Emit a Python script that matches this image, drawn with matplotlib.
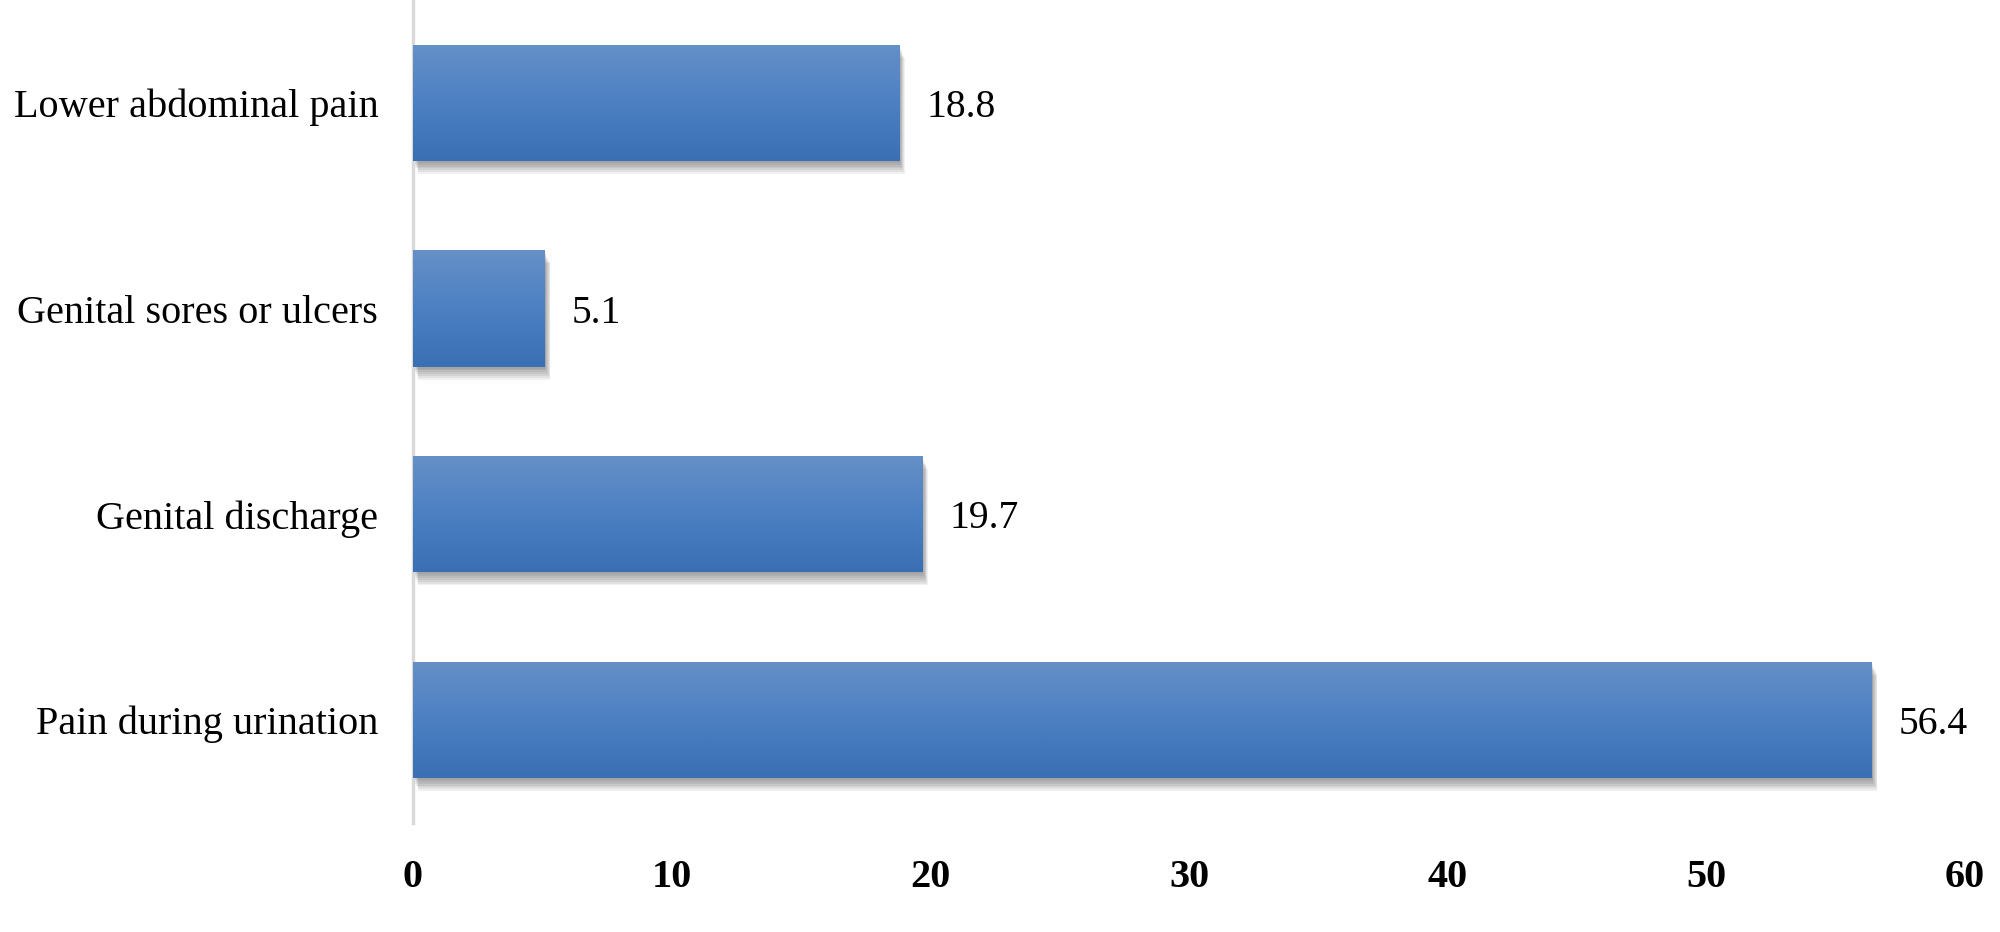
import numpy as np
import matplotlib.pyplot as plt
from matplotlib.patches import Rectangle
from matplotlib.colors import LinearSegmentedColormap

categorias = ["Pain during urination", "Genital discharge",
              "Genital sores or ulcers", "Lower abdominal pain"]
valores = [56.4, 19.7, 5.1, 18.8]
ticks_x = [0, 10, 20, 30, 40, 50, 60]

plt.rcParams['font.family'] = ['Liberation Serif', 'DejaVu Serif']

fig = plt.figure(figsize=(20, 9.32), dpi=100)
ax = fig.add_axes([0.2065, 0.117, 0.776, 0.883])

y = np.arange(len(categorias))
alto = 0.565
barras = ax.barh(y, valores, height=alto, color='none', edgecolor='none', zorder=3)

# degradado vertical (claro arriba, oscuro abajo)
grad = np.linspace(0, 1, 256).reshape(-1, 1)
cmap = LinearSegmentedColormap.from_list('azul', ['#3a6fb4', '#4c80c3', '#6690c7'])

for b in barras:
    x0, y0 = b.get_x(), b.get_y()
    w, h = b.get_width(), b.get_height()
    # sombra
    for k in range(1, 8):
        sh = Rectangle((x0 + 0.03 * k, y0 - 0.009 * k), w, h,
                       facecolor='#000000', alpha=0.06, edgecolor='none', zorder=2)
        ax.add_patch(sh)
    im = ax.imshow(grad, extent=(x0, x0 + w, y0, y0 + h), origin='lower',
                   cmap=cmap, aspect='auto', zorder=3)
    im.set_clip_path(b)

for yi, v in zip(y, valores):
    ax.text(v + 1.05, yi, f"{v}", va='center_baseline', ha='left', fontsize=28.5, color='black')

ax.set_xlim(0, 60)
ax.set_ylim(-0.5, 3.5)
ax.set_xticks(ticks_x)
ax.set_xticklabels([str(t) for t in ticks_x], fontsize=29, fontweight='bold')
ax.set_yticks(y)
ax.set_yticklabels(categorias, fontsize=29)
ax.tick_params(axis='both', length=0)
ax.tick_params(axis='x', pad=26)
ax.tick_params(axis='y', pad=25)

for s in ['top', 'right', 'bottom']:
    ax.spines[s].set_visible(False)
ax.spines['left'].set_color('#d9d9d9')
ax.spines['left'].set_linewidth(2.5)

fig.savefig('out.png', dpi=100)
